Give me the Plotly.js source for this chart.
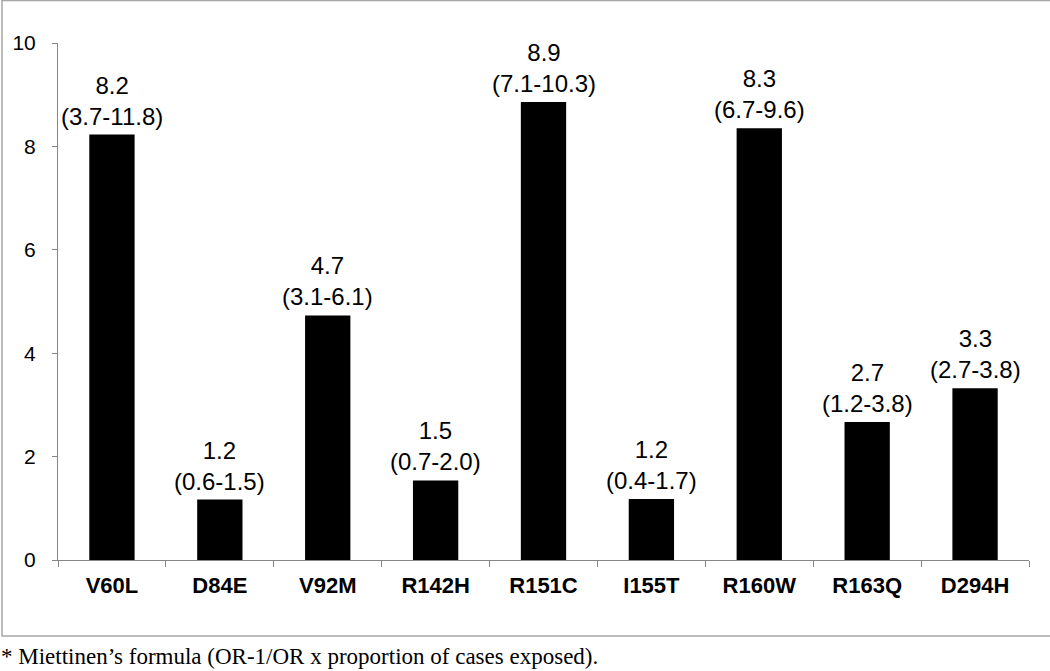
<!DOCTYPE html>
<html>
<head>
<meta charset="utf-8">
<script src="https://cdn.plot.ly/plotly-3.0.1.min.js"></script>
<style>
html,body{margin:0;padding:0;background:#fff;}
#chart{width:1050px;height:671px;}
</style>
</head>
<body>
<div id="chart"></div>
<script>
const categories = ["V60L","D84E","V92M","R142H","R151C","I155T","R160W","R163Q","D294H"];
const values = [8.23, 1.17, 4.73, 1.54, 8.86, 1.18, 8.35, 2.67, 3.32];
const pointLabels = ["8.2","1.2","4.7","1.5","8.9","1.2","8.3","2.7","3.3"];
const ciLabels = ["(3.7-11.8)","(0.6-1.5)","(3.1-6.1)","(0.7-2.0)","(7.1-10.3)","(0.4-1.7)","(6.7-9.6)","(1.2-3.8)","(2.7-3.8)"];
const yTicks = [0, 2, 4, 6, 8, 10];
const footnote = "* Miettinen\u2019s formula (OR-1/OR x proportion of cases exposed).";

const W = 1050, H = 671;
const M = {l: 58, r: 21, t: 43, b: 111};
const pw = W - M.l - M.r, ph = H - M.t - M.b;
const px = x => (x - M.l) / pw;
const py = y => (H - M.b - y) / ph;

const annotations = categories.map((c, i) => ({
  x: c, y: values[i], xref: 'x', yref: 'y',
  text: pointLabels[i] + '<br>' + ciLabels[i],
  showarrow: false, yanchor: 'bottom', yshift: 3,
  font: {family: 'Arial, Liberation Sans, sans-serif', size: 24, color: '#000'}
}));
annotations.push({
  x: px(-1), y: py(656), xref: 'paper', yref: 'paper',
  xanchor: 'left', yanchor: 'middle', showarrow: false,
  text: footnote,
  font: {family: 'Times New Roman, Liberation Serif, serif', size: 23, color: '#000'}
});

const data = [{
  type: 'bar', x: categories, y: values,
  marker: {color: '#000'},
  hoverinfo: 'skip'
}];

const layout = {
  width: W, height: H,
  margin: M,
  paper_bgcolor: '#fff', plot_bgcolor: '#fff',
  showlegend: false,
  bargap: 0.58,
  xaxis: {
    type: 'category',
    tickson: 'boundaries',
    ticks: 'outside', ticklen: 6, tickcolor: '#868686', tickwidth: 1,
    showline: true, linecolor: '#868686', linewidth: 1,
    showgrid: false, zeroline: false,
    tickfont: {family: 'Arial, Liberation Sans, sans-serif', size: 22, color: '#000', weight: 'bold'},
    ticklabelstandoff: 6
  },
  yaxis: {
    range: [0, 10],
    tickvals: yTicks,
    ticks: 'outside', ticklen: 5, tickcolor: '#868686', tickwidth: 1,
    showline: true, linecolor: '#868686', linewidth: 1,
    showgrid: false, zeroline: false,
    tickfont: {family: 'Arial, Liberation Sans, sans-serif', size: 21, color: '#000'},
    ticklabelstandoff: 12
  },
  shapes: [{
    type: 'rect', xref: 'paper', yref: 'paper',
    x0: px(2), x1: px(1060), y0: py(636), y1: py(0.5),
    line: {color: '#a6a6a6', width: 1.5}, fillcolor: 'rgba(0,0,0,0)', layer: 'below'
  }],
  annotations: annotations
};

Plotly.newPlot('chart', data, layout, {displayModeBar: false, staticPlot: true});
</script>
</body>
</html>
